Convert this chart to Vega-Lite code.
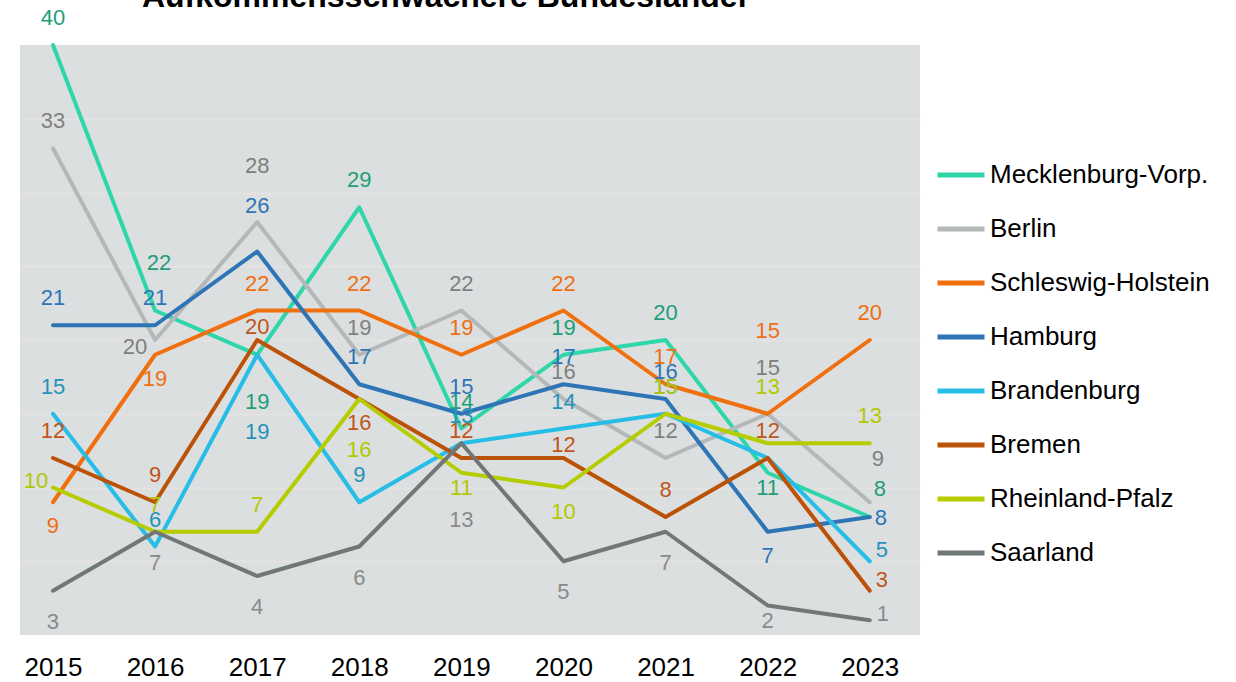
{
  "$schema": "https://vega.github.io/schema/vega-lite/v6.json",
  "width": 900,
  "height": 590,
  "autosize": {"type": "none"},
  "padding": {"left": 20, "top": 45, "right": 316, "bottom": 47},
  "background": "white",
  "title": {"text": "Aufkommensschwächere Bundesländer", "fontSize": 32, "font": "Liberation Sans", "fontWeight": "bold", "color": "#000000", "anchor": "middle", "frame": "group", "dx": -24, "baseline": "alphabetic", "offset": -32},
  "config": {"view": {"fill": "#dcdfe0", "stroke": null}, "font": "Liberation Sans"},
  "data": {"values": [
    {"Land": "Mecklenburg-Vorp.", "Jahr": 2015, "Wert": 40},
    {"Land": "Mecklenburg-Vorp.", "Jahr": 2016, "Wert": 22},
    {"Land": "Mecklenburg-Vorp.", "Jahr": 2017, "Wert": 19},
    {"Land": "Mecklenburg-Vorp.", "Jahr": 2018, "Wert": 29},
    {"Land": "Mecklenburg-Vorp.", "Jahr": 2019, "Wert": 14},
    {"Land": "Mecklenburg-Vorp.", "Jahr": 2020, "Wert": 19},
    {"Land": "Mecklenburg-Vorp.", "Jahr": 2021, "Wert": 20},
    {"Land": "Mecklenburg-Vorp.", "Jahr": 2022, "Wert": 11},
    {"Land": "Mecklenburg-Vorp.", "Jahr": 2023, "Wert": 8},
    {"Land": "Berlin", "Jahr": 2015, "Wert": 33},
    {"Land": "Berlin", "Jahr": 2016, "Wert": 20},
    {"Land": "Berlin", "Jahr": 2017, "Wert": 28},
    {"Land": "Berlin", "Jahr": 2018, "Wert": 19},
    {"Land": "Berlin", "Jahr": 2019, "Wert": 22},
    {"Land": "Berlin", "Jahr": 2020, "Wert": 16},
    {"Land": "Berlin", "Jahr": 2021, "Wert": 12},
    {"Land": "Berlin", "Jahr": 2022, "Wert": 15},
    {"Land": "Berlin", "Jahr": 2023, "Wert": 9},
    {"Land": "Schleswig-Holstein", "Jahr": 2015, "Wert": 9},
    {"Land": "Schleswig-Holstein", "Jahr": 2016, "Wert": 19},
    {"Land": "Schleswig-Holstein", "Jahr": 2017, "Wert": 22},
    {"Land": "Schleswig-Holstein", "Jahr": 2018, "Wert": 22},
    {"Land": "Schleswig-Holstein", "Jahr": 2019, "Wert": 19},
    {"Land": "Schleswig-Holstein", "Jahr": 2020, "Wert": 22},
    {"Land": "Schleswig-Holstein", "Jahr": 2021, "Wert": 17},
    {"Land": "Schleswig-Holstein", "Jahr": 2022, "Wert": 15},
    {"Land": "Schleswig-Holstein", "Jahr": 2023, "Wert": 20},
    {"Land": "Hamburg", "Jahr": 2015, "Wert": 21},
    {"Land": "Hamburg", "Jahr": 2016, "Wert": 21},
    {"Land": "Hamburg", "Jahr": 2017, "Wert": 26},
    {"Land": "Hamburg", "Jahr": 2018, "Wert": 17},
    {"Land": "Hamburg", "Jahr": 2019, "Wert": 15},
    {"Land": "Hamburg", "Jahr": 2020, "Wert": 17},
    {"Land": "Hamburg", "Jahr": 2021, "Wert": 16},
    {"Land": "Hamburg", "Jahr": 2022, "Wert": 7},
    {"Land": "Hamburg", "Jahr": 2023, "Wert": 8},
    {"Land": "Brandenburg", "Jahr": 2015, "Wert": 15},
    {"Land": "Brandenburg", "Jahr": 2016, "Wert": 6},
    {"Land": "Brandenburg", "Jahr": 2017, "Wert": 19},
    {"Land": "Brandenburg", "Jahr": 2018, "Wert": 9},
    {"Land": "Brandenburg", "Jahr": 2019, "Wert": 13},
    {"Land": "Brandenburg", "Jahr": 2020, "Wert": 14},
    {"Land": "Brandenburg", "Jahr": 2021, "Wert": 15},
    {"Land": "Brandenburg", "Jahr": 2022, "Wert": 12},
    {"Land": "Brandenburg", "Jahr": 2023, "Wert": 5},
    {"Land": "Bremen", "Jahr": 2015, "Wert": 12},
    {"Land": "Bremen", "Jahr": 2016, "Wert": 9},
    {"Land": "Bremen", "Jahr": 2017, "Wert": 20},
    {"Land": "Bremen", "Jahr": 2018, "Wert": 16},
    {"Land": "Bremen", "Jahr": 2019, "Wert": 12},
    {"Land": "Bremen", "Jahr": 2020, "Wert": 12},
    {"Land": "Bremen", "Jahr": 2021, "Wert": 8},
    {"Land": "Bremen", "Jahr": 2022, "Wert": 12},
    {"Land": "Bremen", "Jahr": 2023, "Wert": 3},
    {"Land": "Rheinland-Pfalz", "Jahr": 2015, "Wert": 10},
    {"Land": "Rheinland-Pfalz", "Jahr": 2016, "Wert": 7},
    {"Land": "Rheinland-Pfalz", "Jahr": 2017, "Wert": 7},
    {"Land": "Rheinland-Pfalz", "Jahr": 2018, "Wert": 16},
    {"Land": "Rheinland-Pfalz", "Jahr": 2019, "Wert": 11},
    {"Land": "Rheinland-Pfalz", "Jahr": 2020, "Wert": 10},
    {"Land": "Rheinland-Pfalz", "Jahr": 2021, "Wert": 15},
    {"Land": "Rheinland-Pfalz", "Jahr": 2022, "Wert": 13},
    {"Land": "Rheinland-Pfalz", "Jahr": 2023, "Wert": 13},
    {"Land": "Saarland", "Jahr": 2015, "Wert": 3},
    {"Land": "Saarland", "Jahr": 2016, "Wert": 7},
    {"Land": "Saarland", "Jahr": 2017, "Wert": 4},
    {"Land": "Saarland", "Jahr": 2018, "Wert": 6},
    {"Land": "Saarland", "Jahr": 2019, "Wert": 13},
    {"Land": "Saarland", "Jahr": 2020, "Wert": 5},
    {"Land": "Saarland", "Jahr": 2021, "Wert": 7},
    {"Land": "Saarland", "Jahr": 2022, "Wert": 2},
    {"Land": "Saarland", "Jahr": 2023, "Wert": 1}
  ]},
  "encoding": {
    "x": {"field": "Jahr", "type": "quantitative",
      "scale": {"domain": [2014.677, 2023.492], "nice": false, "zero": false},
      "axis": {"values": [2015, 2016, 2017, 2018, 2019, 2020, 2021, 2022, 2023], "format": "d", "labelFontSize": 26, "labelColor": "#000000", "labelPadding": 19, "grid": false, "title": null, "domain": false, "ticks": false, "labelFont": "Liberation Sans"}},
    "y": {"field": "Wert", "type": "quantitative",
      "scale": {"domain": [0, 40], "nice": false, "zero": true},
      "axis": {"values": [5, 10, 15, 20, 25, 30, 35], "labels": false, "ticks": false, "domain": false, "title": null, "grid": true, "gridColor": "#e4e2e2", "gridWidth": 2}}
  },
  "layer": [
    {
      "mark": {"type": "line", "strokeWidth": 4, "strokeCap": "round", "strokeJoin": "round"},
      "encoding": {
        "stroke": {"field": "Land", "type": "nominal", "sort": null,
          "scale": {"domain": ["Mecklenburg-Vorp.", "Berlin", "Schleswig-Holstein", "Hamburg", "Brandenburg", "Bremen", "Rheinland-Pfalz", "Saarland"],
                    "range": ["#2ed6a9", "#b5b8b8", "#f0700f", "#2e75b6", "#26bde6", "#bb5208", "#b5cc00", "#717777"]},
          "legend": {"orient": "none", "legendX": 915, "legendY": 104, "title": null, "padding": 0, "symbolType": "stroke", "symbolSize": 2209, "symbolStrokeWidth": 5, "labelFontSize": 26, "labelColor": "#000000", "labelFont": "Liberation Sans", "labelOffset": 3, "rowPadding": 15, "labelLimit": 400}}
      }
    },
    {
      "encoding": {
        "text": {"field": "Wert", "type": "quantitative"},
        "fill": {"field": "Land", "type": "nominal", "legend": null,
          "scale": {"domain": ["Mecklenburg-Vorp.", "Berlin", "Schleswig-Holstein", "Hamburg", "Brandenburg", "Bremen", "Rheinland-Pfalz", "Saarland"],
                    "range": ["#1f9e78", "#7f7f7f", "#ef6f14", "#2e75b6", "#2593b8", "#c0561a", "#b2c800", "#8a8a8a"]}}
      },
      "layer": [
        {"transform": [{"filter": "indexof(['Schleswig-Holstein|2015','Schleswig-Holstein|2016','Rheinland-Pfalz|2020','Hamburg|2022','Bremen|2018','Rheinland-Pfalz|2019','Mecklenburg-Vorp.|2022','Saarland|2022','Saarland|2015','Saarland|2016','Saarland|2017','Saarland|2018','Saarland|2020','Saarland|2021','Mecklenburg-Vorp.|2016','Hamburg|2017','Berlin|2022','Berlin|2017','Rheinland-Pfalz|2022','Schleswig-Holstein|2022','Mecklenburg-Vorp.|2017','Brandenburg|2017','Saarland|2019','Bremen|2017','Bremen|2020','Rheinland-Pfalz|2018','Rheinland-Pfalz|2015','Berlin|2016','Brandenburg|2023','Bremen|2023','Saarland|2023','Hamburg|2023','Berlin|2023','Mecklenburg-Vorp.|2023','Brandenburg|2022'], datum.Land + '|' + datum.Jahr) < 0"}],
         "mark": {"type": "text", "fontSize": 22, "baseline": "middle", "align": "center", "dy": -27}},
        {"transform": [{"filter": "indexof(['Schleswig-Holstein|2015','Schleswig-Holstein|2016','Rheinland-Pfalz|2020','Hamburg|2022','Bremen|2018'], datum.Land + '|' + datum.Jahr) >= 0"}],
         "mark": {"type": "text", "fontSize": 22, "baseline": "middle", "align": "center", "dy": 24}},
        {"transform": [{"filter": "indexof(['Rheinland-Pfalz|2019','Mecklenburg-Vorp.|2022','Saarland|2022'], datum.Land + '|' + datum.Jahr) >= 0"}],
         "mark": {"type": "text", "fontSize": 22, "baseline": "middle", "align": "center", "dy": 15}},
        {"transform": [{"filter": "indexof(['Saarland|2015','Saarland|2016','Saarland|2017','Saarland|2018','Saarland|2020','Saarland|2021'], datum.Land + '|' + datum.Jahr) >= 0"}],
         "mark": {"type": "text", "fontSize": 22, "baseline": "middle", "align": "center", "dy": 31}},
        {"transform": [{"filter": "indexof(['Mecklenburg-Vorp.|2016'], datum.Land + '|' + datum.Jahr) >= 0"}],
         "mark": {"type": "text", "fontSize": 22, "baseline": "middle", "align": "center", "dx": 4, "dy": -48}},
        {"transform": [{"filter": "indexof(['Hamburg|2017','Berlin|2022'], datum.Land + '|' + datum.Jahr) >= 0"}],
         "mark": {"type": "text", "fontSize": 22, "baseline": "middle", "align": "center", "dy": -46}},
        {"transform": [{"filter": "indexof(['Berlin|2017','Rheinland-Pfalz|2022'], datum.Land + '|' + datum.Jahr) >= 0"}],
         "mark": {"type": "text", "fontSize": 22, "baseline": "middle", "align": "center", "dy": -56}},
        {"transform": [{"filter": "indexof(['Schleswig-Holstein|2022'], datum.Land + '|' + datum.Jahr) >= 0"}],
         "mark": {"type": "text", "fontSize": 22, "baseline": "middle", "align": "center", "dy": -83}},
        {"transform": [{"filter": "indexof(['Mecklenburg-Vorp.|2017'], datum.Land + '|' + datum.Jahr) >= 0"}],
         "mark": {"type": "text", "fontSize": 22, "baseline": "middle", "align": "center", "dy": 47}},
        {"transform": [{"filter": "indexof(['Brandenburg|2017','Saarland|2019'], datum.Land + '|' + datum.Jahr) >= 0"}],
         "mark": {"type": "text", "fontSize": 22, "baseline": "middle", "align": "center", "dy": 77}},
        {"transform": [{"filter": "indexof(['Bremen|2017','Bremen|2020'], datum.Land + '|' + datum.Jahr) >= 0"}],
         "mark": {"type": "text", "fontSize": 22, "baseline": "middle", "align": "center", "dy": -13}},
        {"transform": [{"filter": "indexof(['Rheinland-Pfalz|2018'], datum.Land + '|' + datum.Jahr) >= 0"}],
         "mark": {"type": "text", "fontSize": 22, "baseline": "middle", "align": "center", "dy": 51}},
        {"transform": [{"filter": "indexof(['Rheinland-Pfalz|2015'], datum.Land + '|' + datum.Jahr) >= 0"}],
         "mark": {"type": "text", "fontSize": 22, "baseline": "middle", "align": "center", "dx": -17, "dy": -7}},
        {"transform": [{"filter": "indexof(['Berlin|2016'], datum.Land + '|' + datum.Jahr) >= 0"}],
         "mark": {"type": "text", "fontSize": 22, "baseline": "middle", "align": "center", "dx": -20, "dy": 7}},
        {"transform": [{"filter": "indexof(['Brandenburg|2023','Bremen|2023'], datum.Land + '|' + datum.Jahr) >= 0"}],
         "mark": {"type": "text", "fontSize": 22, "baseline": "middle", "align": "center", "dx": 12, "dy": -11}},
        {"transform": [{"filter": "indexof(['Saarland|2023'], datum.Land + '|' + datum.Jahr) >= 0"}],
         "mark": {"type": "text", "fontSize": 22, "baseline": "middle", "align": "center", "dx": 13, "dy": -6}},
        {"transform": [{"filter": "indexof(['Hamburg|2023'], datum.Land + '|' + datum.Jahr) >= 0"}],
         "mark": {"type": "text", "fontSize": 22, "baseline": "middle", "align": "center", "dx": 11, "dy": 1}},
        {"transform": [{"filter": "indexof(['Berlin|2023'], datum.Land + '|' + datum.Jahr) >= 0"}],
         "mark": {"type": "text", "fontSize": 22, "baseline": "middle", "align": "center", "dx": 8, "dy": -43}},
        {"transform": [{"filter": "indexof(['Mecklenburg-Vorp.|2023'], datum.Land + '|' + datum.Jahr) >= 0"}],
         "mark": {"type": "text", "fontSize": 22, "baseline": "middle", "align": "center", "dx": 10, "dy": -28}}
      ]
    }
  ]
}
